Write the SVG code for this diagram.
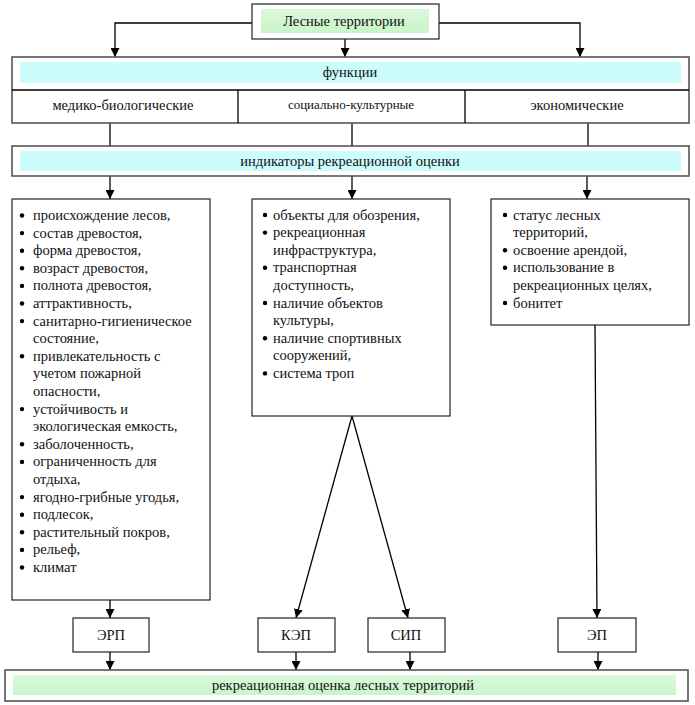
<svg xmlns="http://www.w3.org/2000/svg" width="695" height="705" viewBox="0 0 695 705">
<defs>
<marker id="ah" viewBox="0 0 10 10" refX="10" refY="5" markerWidth="9" markerHeight="9" markerUnits="userSpaceOnUse" orient="auto">
<path d="M0,0 L10,5 L0,10 Z" fill="#000"/>
</marker>
<linearGradient id="gg" x1="0" y1="0" x2="0" y2="1">
<stop offset="0" stop-color="#dcf8dc"/><stop offset="1" stop-color="#c8f5c8"/>
</linearGradient>
</defs>
<style>
.box{fill:#fff;stroke:#222;stroke-width:1.2}
.big{fill:#fff;stroke:#555;stroke-width:1.6}
.cy{fill:#ccfcfc}
.gr{fill:url(#gg)}
.t{font-family:'Liberation Serif','Times New Roman',serif;font-size:14.5px;fill:#111}
.c{text-anchor:middle}
.ln{stroke:#000;stroke-width:1.3;fill:none}
.ar{stroke:#000;stroke-width:1.3;fill:none;marker-end:url(#ah)}
.b{fill:#000}
</style>
<rect width="695" height="705" fill="#fff"/>

<g id="connectors">
<polyline class="ar" points="252,23 115,23 115,57"/>
<polyline class="ar" points="439,23 580,23 580,57"/>
<line class="ar" x1="345" y1="39" x2="345" y2="57"/>
<line class="ln" x1="110" y1="123" x2="110" y2="146"/>
<line class="ln" x1="352" y1="123" x2="352" y2="146"/>
<line class="ln" x1="588" y1="123" x2="588" y2="146"/>
<line class="ar" x1="110" y1="176" x2="110" y2="199"/>
<line class="ar" x1="352" y1="176" x2="352" y2="199"/>
<line class="ar" x1="587" y1="176" x2="587" y2="199"/>
<line class="ar" x1="110" y1="600" x2="110" y2="618"/>
<line class="ar" x1="352" y1="416" x2="296" y2="618"/>
<line class="ar" x1="352" y1="416" x2="408" y2="618"/>
<line class="ar" x1="595" y1="325" x2="597" y2="618"/>
<line class="ar" x1="110" y1="652" x2="110" y2="670"/>
<line class="ar" x1="296" y1="652" x2="296" y2="670"/>
<line class="ar" x1="410" y1="652" x2="410" y2="670"/>
<line class="ar" x1="598" y1="652" x2="598" y2="670"/>
</g>

<g id="forest">
<rect class="box" x="252" y="4" width="187" height="35"/>
<rect class="gr" x="261" y="9" width="168" height="24"/>
<text class="t c" x="344" y="26">Лесные территории</text>
</g>

<g id="functions">
<rect class="big" x="12" y="57" width="677" height="66"/>
<rect class="cy" x="20" y="62" width="661" height="21"/>
<text class="t c" x="350" y="77">функции</text>
<line class="ln" x1="12" y1="90" x2="689" y2="90"/>
<line class="ln" x1="238" y1="90" x2="238" y2="123"/>
<line class="ln" x1="465" y1="90" x2="465" y2="123"/>
<text class="t c" x="123" y="110">медико-биологические</text>
<text class="t c" x="351" y="109" style="font-size:13px">социально-культурные</text>
<text class="t c" x="577" y="110">экономические</text>
</g>

<g id="indicators">
<rect class="big" x="12" y="146" width="677" height="30"/>
<rect class="cy" x="20" y="151" width="661" height="20"/>
<text class="t c" x="350" y="166">индикаторы рекреационной оценки</text>
</g>

<g id="bio-list">
<rect class="box" x="12" y="199" width="198" height="401"/>
<g class="b">
<circle cx="22" cy="215.5" r="2.2"/><circle cx="22" cy="233.1" r="2.2"/><circle cx="22" cy="250.7" r="2.2"/><circle cx="22" cy="268.3" r="2.2"/><circle cx="22" cy="285.9" r="2.2"/><circle cx="22" cy="303.5" r="2.2"/><circle cx="22" cy="321.1" r="2.2"/><circle cx="22" cy="356.3" r="2.2"/><circle cx="22" cy="409.1" r="2.2"/><circle cx="22" cy="444.3" r="2.2"/><circle cx="22" cy="461.9" r="2.2"/><circle cx="22" cy="497.1" r="2.2"/><circle cx="22" cy="514.7" r="2.2"/><circle cx="22" cy="532.3" r="2.2"/><circle cx="22" cy="549.9" r="2.2"/><circle cx="22" cy="567.5" r="2.2"/>
</g>
<text class="t" x="33" y="220">происхождение лесов,</text>
<text class="t" x="33" y="237.6">состав древостоя,</text>
<text class="t" x="33" y="255.2">форма древостоя,</text>
<text class="t" x="33" y="272.8">возраст древостоя,</text>
<text class="t" x="33" y="290.4">полнота древостоя,</text>
<text class="t" x="33" y="308">аттрактивность,</text>
<text class="t" x="33" y="325.6">санитарно-гигиеническое</text>
<text class="t" x="33" y="343.2">состояние,</text>
<text class="t" x="33" y="360.8">привлекательность с</text>
<text class="t" x="33" y="378.4">учетом пожарной</text>
<text class="t" x="33" y="396">опасности,</text>
<text class="t" x="33" y="413.6">устойчивость и</text>
<text class="t" x="33" y="431.2">экологическая емкость,</text>
<text class="t" x="33" y="448.8">заболоченность,</text>
<text class="t" x="33" y="466.4">ограниченность для</text>
<text class="t" x="33" y="484">отдыха,</text>
<text class="t" x="33" y="501.6">ягодно-грибные угодья,</text>
<text class="t" x="33" y="519.2">подлесок,</text>
<text class="t" x="33" y="536.8">растительный покров,</text>
<text class="t" x="33" y="554.4">рельеф,</text>
<text class="t" x="33" y="572">климат</text>
</g>

<g id="social-list">
<rect class="box" x="252" y="199" width="198" height="217"/>
<g class="b">
<circle cx="265" cy="215" r="2.2"/><circle cx="265" cy="232.6" r="2.2"/><circle cx="265" cy="267.8" r="2.2"/><circle cx="265" cy="303" r="2.2"/><circle cx="265" cy="338.2" r="2.2"/><circle cx="265" cy="373.4" r="2.2"/>
</g>
<text class="t" x="273" y="219.5">объекты для обозрения,</text>
<text class="t" x="273" y="237.1">рекреационная</text>
<text class="t" x="273" y="254.7">инфраструктура,</text>
<text class="t" x="273" y="272.3">транспортная</text>
<text class="t" x="273" y="289.9">доступность,</text>
<text class="t" x="273" y="307.5">наличие объектов</text>
<text class="t" x="273" y="325.1">культуры,</text>
<text class="t" x="273" y="342.7">наличие спортивных</text>
<text class="t" x="273" y="360.3">сооружений,</text>
<text class="t" x="273" y="377.9">система троп</text>
</g>

<g id="eco-list">
<rect class="box" x="491" y="199" width="198" height="126"/>
<g class="b">
<circle cx="505" cy="215" r="2.2"/><circle cx="505" cy="250.2" r="2.2"/><circle cx="505" cy="267.8" r="2.2"/><circle cx="505" cy="303" r="2.2"/>
</g>
<text class="t" x="513" y="219.5">статус лесных</text>
<text class="t" x="513" y="237.1">территорий,</text>
<text class="t" x="513" y="254.7">освоение арендой,</text>
<text class="t" x="513" y="272.3">использование в</text>
<text class="t" x="513" y="289.9">рекреационных целях,</text>
<text class="t" x="513" y="307.5">бонитет</text>
</g>

<g id="erp">
<rect class="box" x="73" y="618" width="76" height="34"/>
<text class="t c" x="111" y="640">ЭРП</text>
</g>
<g id="kep">
<rect class="box" x="258" y="618" width="77" height="34"/>
<text class="t c" x="296" y="640">КЭП</text>
</g>
<g id="sip">
<rect class="box" x="368" y="618" width="77" height="34"/>
<text class="t c" x="406" y="640">СИП</text>
</g>
<g id="ep">
<rect class="box" x="558" y="618" width="78" height="34"/>
<text class="t c" x="597" y="640">ЭП</text>
</g>

<g id="result">
<rect class="big" x="5" y="670" width="683" height="31"/>
<rect class="gr" x="13" y="675" width="663" height="20"/>
<text class="t c" x="343" y="690">рекреационная оценка лесных территорий</text>
</g>
</svg>
